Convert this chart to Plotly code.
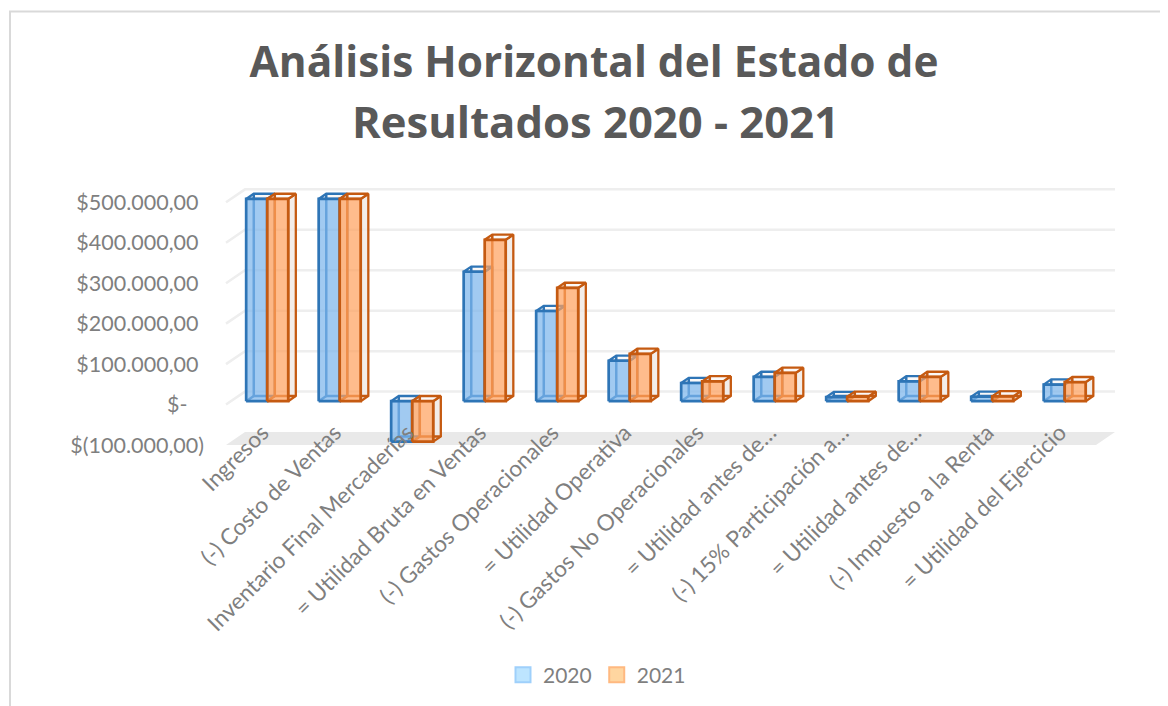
import plotly.graph_objects as go

categories = ["Ingresos", "(-) Costo de Ventas", "Inventario Final Mercaderías",
              "= Utilidad Bruta en Ventas", "(-) Gastos Operacionales", "= Utilidad Operativa",
              "(-) Gastos No Operacionales", "= Utilidad antes de…", "(-) 15% Participación a…",
              "= Utilidad antes de…", "(-) Impuesto a la Renta", "= Utilidad del Ejercicio"]
values_2020 = [500000, 500000, -100000, 320000, 223000, 100000, 45000, 60000, 10000, 49000, 11000, 41000]
values_2021 = [500000, 500000, -100000, 399000, 280000, 117000, 49000, 70000, 11000, 60000, 12000, 47000]
y_ticks = [-100000, 0, 100000, 200000, 300000, 400000, 500000]
y_labels = ["$(100.000,00)", "$-\u00a0\u00a0\u00a0", "$100.000,00\u00a0", "$200.000,00\u00a0",
            "$300.000,00\u00a0", "$400.000,00\u00a0", "$500.000,00\u00a0"]

# page offset of the plot div inside the browser window
page_x, page_y = 8, 8
fig_w, fig_h = 1160, 698
# plot area in window pixels, and the scales of the fake 3d box
left, right, top, bottom = 205, 1126, 176, 446
px_cat = 72.5
px_val = 40.6 / 100000
wall_dx = 19 / px_cat       # full depth of the box, in category units
wall_dy = 13 / px_val       # full depth of the box, in value units
bar_w = 0.29
depth_front, depth_back = 0.26, 0.66
x0 = -0.5 - (226 - left) / px_cat
x1 = x0 + (right - left) / px_cat
y0 = -100000
y1 = y0 + (bottom - top) / px_val


def fx(px):
    return (px - left) / (right - left)


def fy(py):
    return (bottom - py) / (bottom - top)


def proj(x, v, d):
    return x + d * wall_dx, v + d * wall_dy


def polys(shapes):
    xs, ys = [], []
    for pts in shapes:
        for p in pts:
            xs.append(p[0])
            ys.append(p[1])
        xs.append(None)
        ys.append(None)
    return xs, ys


def bar_faces(values, start):
    front, side, lid, inner = [], [], [], []
    for i, v in enumerate(values):
        a, b = i + start, i + start + bar_w
        hi, lo = max(v, 0), min(v, 0)
        f = depth_front
        k = depth_back
        front.append([proj(a, lo, f), proj(b, lo, f), proj(b, hi, f), proj(a, hi, f), proj(a, lo, f)])
        side.append([proj(b, lo, f), proj(b, lo, k), proj(b, hi, k), proj(b, hi, f), proj(b, lo, f)])
        lid.append([proj(a, hi, f), proj(a, hi, k), proj(b, hi, k), proj(b, hi, f), proj(a, hi, f)])
        inner.append([proj(a, hi, k), proj(a, lo, k), proj(b, lo, k)])
        inner.append([proj(a, lo, f), proj(a, lo, k)])
    return front, side, lid, inner


fig = go.Figure()

# floor and walls
floor = [[proj(-0.5, y0, 0), proj(11.5, y0, 0), proj(11.5, y0, 1), proj(-0.5, y0, 1), proj(-0.5, y0, 0)]]
flx, fly = polys(floor)
fig.add_trace(go.Scatter(x=flx, y=fly, mode="lines", fill="toself", fillcolor="#e9e9e9",
                         line=dict(width=0), showlegend=False, hoverinfo="skip"))
grid = []
for t in y_ticks[1:]:
    grid.append([proj(-0.5, t, 0), proj(-0.5, t, 1), proj(11.5, t, 1)])
gx, gy = polys(grid)
fig.add_trace(go.Scatter(x=gx, y=gy, mode="lines", line=dict(color="#eeeeee", width=2.5),
                         showlegend=False, hoverinfo="skip"))

series = [("2020", values_2020, -bar_w, "rgba(125,182,236,0.72)", "#2e75b6", "#bde5ff", "#9fd0fb"),
          ("2021", values_2021, 0, "rgba(255,162,95,0.72)", "#c55a11", "#ffd6a0", "#ffb980")]

for name, values, start, fill, edge, leg_fill, leg_edge in series:
    front, side, lid, inner = bar_faces(values, start)
    sx, sy = polys(side)
    fig.add_trace(go.Scatter(x=sx, y=sy, mode="lines", fill="toself", fillcolor="rgba(240,232,228,0.8)",
                             line=dict(color=edge, width=2.3), showlegend=False, hoverinfo="skip"))
    lx, ly = polys(lid)
    fig.add_trace(go.Scatter(x=lx, y=ly, mode="lines", fill="toself", fillcolor="rgba(250,248,246,0.8)",
                             line=dict(color=edge, width=2.3), showlegend=False, hoverinfo="skip"))
    ix, iy = polys(inner)
    fig.add_trace(go.Scatter(x=ix, y=iy, mode="lines", line=dict(color=edge, width=2.5),
                             showlegend=False, hoverinfo="skip"))
    ox, oy = polys(front)
    fig.add_trace(go.Scatter(x=ox, y=oy, mode="lines", fill="toself", fillcolor=fill,
                             line=dict(color=edge, width=2.7), showlegend=False, hoverinfo="skip"))
    fig.add_trace(go.Scatter(x=[None], y=[None], mode="markers", name=name,
                             marker=dict(symbol="square", size=15, color=leg_fill,
                                         line=dict(color=leg_edge, width=2))))

fig.update_layout(
    width=fig_w, height=fig_h, autosize=False,
    margin=dict(l=left - page_x, r=page_x + fig_w - right, t=top - page_y, b=page_y + fig_h - bottom),
    plot_bgcolor="white", paper_bgcolor="white",
    font=dict(family="Lato", color="#7f7f7f", size=21),
    title=dict(text="Análisis Horizontal del Estado de", x=(594 - page_x) / fig_w, xanchor="center",
               y=1 - (62 - page_y) / fig_h, yanchor="middle",
               font=dict(family="Open Sans", size=42.4, color="#595959", weight="bold")),
    legend=dict(orientation="h", x=fx(597), xanchor="center", y=fy(675), yanchor="middle",
                font=dict(size=21, color="#7f7f7f")),
    annotations=[dict(text="<b>Resultados 2020 - 2021</b>", xref="paper", yref="paper",
                      x=fx(595.5), y=fy(121), yanchor="middle",
                      showarrow=False, font=dict(family="Open Sans", size=43.6, color="#595959"))],
    shapes=[dict(type="rect", xref="paper", yref="paper", x0=fx(10), x1=fx(1180),
                 y0=fy(720), y1=fy(11), line=dict(color="#d9d9d9", width=2))],
)
fig.update_xaxes(range=[x0, x1], tickmode="array", tickvals=list(range(12)), ticktext=categories,
                 tickangle=-45, showgrid=False, zeroline=False, showline=False, ticks="",
                 ticklabelstandoff=-31, tickfont=dict(size=22.6, color="#7f7f7f"))
fig.update_yaxes(range=[y0, y1], tickmode="array", tickvals=y_ticks, ticktext=y_labels,
                 showgrid=False, zeroline=False, showline=False, ticks="",
                 ticklabelstandoff=0, tickfont=dict(size=21.5, color="#7f7f7f"))

fig.write_html("out.html")
